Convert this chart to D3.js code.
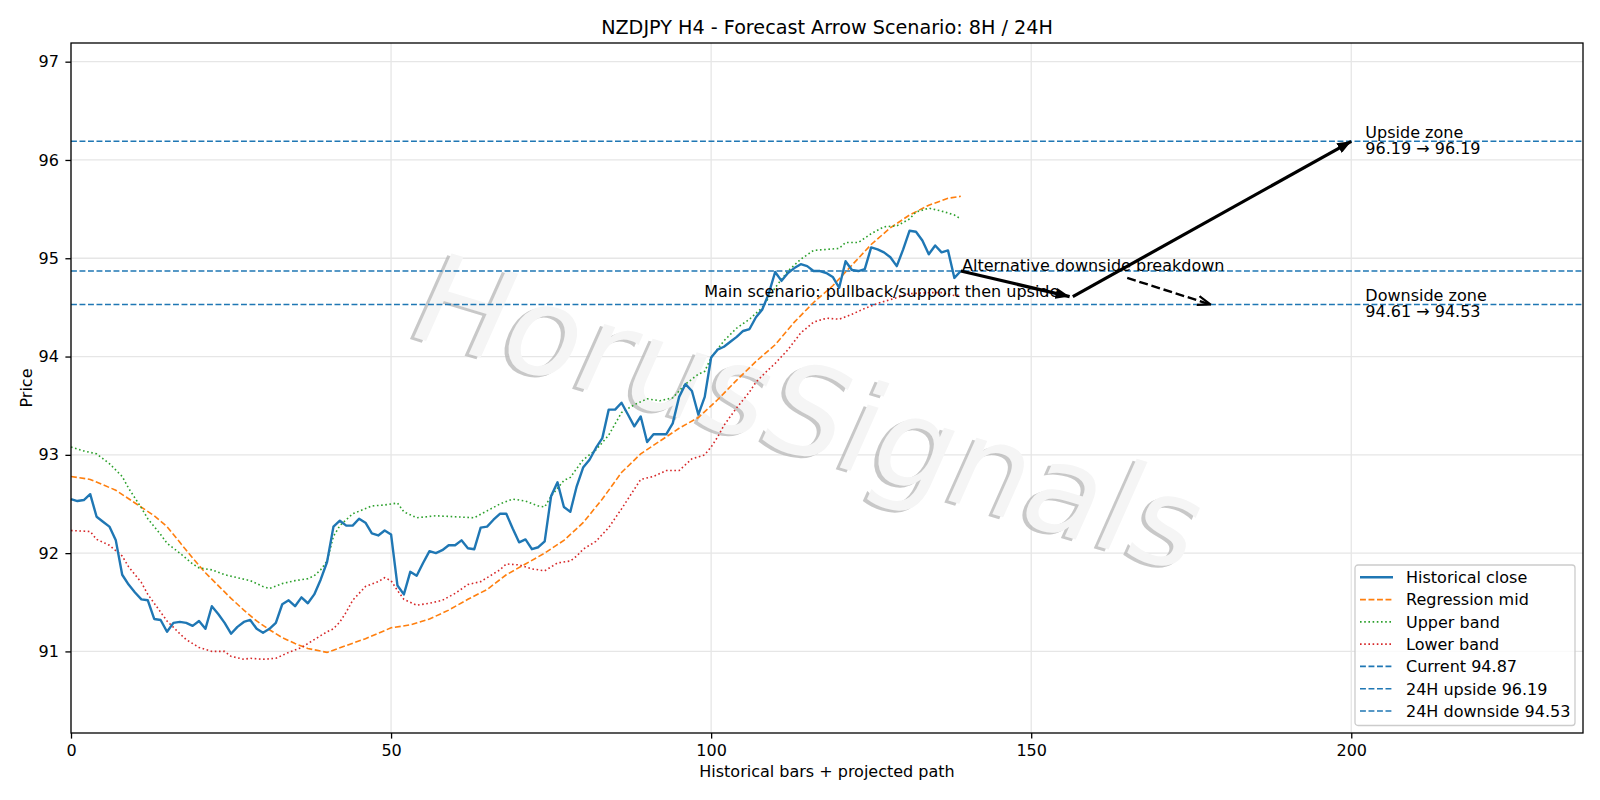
<!DOCTYPE html>
<html>
<head>
<meta charset="utf-8">
<script src="https://cdn.jsdelivr.net/npm/d3@7/dist/d3.min.js"></script>
<style>
  body { margin: 0; background: #fff; }
  svg { font-family: "DejaVu Sans", sans-serif; }
</style>
</head>
<body>
<svg id="chart"></svg>
<script>
// historical H4 closes, bar 0..139
const closeValues = [
  92.55, 92.53, 92.54, 92.60, 92.37, 92.32, 92.27, 92.13, 91.78, 91.68,
  91.60, 91.53, 91.52, 91.33, 91.32, 91.20, 91.29, 91.30, 91.29, 91.26,
  91.31, 91.23, 91.46, 91.38, 91.29, 91.18, 91.25, 91.30, 91.32, 91.23,
  91.19, 91.23, 91.29, 91.48, 91.52, 91.46, 91.55, 91.49, 91.58, 91.73,
  91.91, 92.27, 92.33, 92.28, 92.28, 92.35, 92.31, 92.20, 92.18, 92.23,
  92.19, 91.67, 91.58, 91.81, 91.77, 91.90, 92.02, 92.00, 92.03, 92.08,
  92.08, 92.13, 92.05, 92.04, 92.26, 92.27, 92.34, 92.40, 92.40, 92.25,
  92.11, 92.14, 92.04, 92.06, 92.12, 92.58, 92.72, 92.47, 92.42, 92.68,
  92.87, 92.95, 93.07, 93.17, 93.46, 93.46, 93.53, 93.41, 93.29, 93.39,
  93.13, 93.21, 93.21, 93.21, 93.32, 93.59, 93.72, 93.65, 93.41, 93.59,
  93.99, 94.07, 94.10, 94.15, 94.20, 94.26, 94.28, 94.40, 94.48, 94.64,
  94.86, 94.77, 94.85, 94.90, 94.94, 94.92, 94.87, 94.87, 94.85, 94.81,
  94.70, 94.97, 94.88, 94.87, 94.89, 95.11, 95.09, 95.06, 95.01, 94.92,
  95.09, 95.28, 95.27, 95.18, 95.04, 95.13, 95.06, 95.08, 94.80, 94.87
];

// regression mid (read at these bars)
const midBars = [0, 3, 7, 10, 13, 15, 17, 19, 21, 23, 25, 27, 29, 31, 33, 35, 37, 40,
  43, 46, 50, 53, 56, 59, 62, 65, 68, 71, 74, 77, 80, 83, 86, 89, 92, 95, 98,
  101, 104, 107, 110, 113, 116, 119, 122, 125, 128, 131, 134, 137, 139];
const midValues = [92.78, 92.75, 92.64, 92.51, 92.38, 92.27, 92.11, 91.95, 91.80, 91.67,
  91.54, 91.42, 91.31, 91.22, 91.14, 91.08, 91.03, 90.99,
  91.06, 91.13, 91.24, 91.27, 91.33, 91.42, 91.53, 91.63, 91.78, 91.89, 92.00, 92.13,
  92.31, 92.55, 92.82, 93.01, 93.14, 93.27, 93.38,
  93.56, 93.76, 93.95, 94.12, 94.35, 94.55, 94.72, 94.93, 95.14, 95.31, 95.44, 95.54, 95.61, 95.63];

const upperBars = [0, 2, 4, 6, 8, 9, 11, 12, 14, 15, 17, 19, 20, 22, 24, 26, 28, 30, 31, 33,
  35, 37, 38, 39, 40, 41, 42, 44, 47, 49, 51, 52, 54, 57, 60, 63, 65, 67, 69, 71, 73, 74,
  75, 77, 78, 80, 82, 84, 86, 88, 90, 92, 94, 96, 98, 99, 100, 102, 104, 106, 108, 110,
  112, 114, 116, 118, 120, 121, 123, 125, 127, 129, 131, 132, 134, 136, 138, 139];
const upperValues = [93.08, 93.04, 93.01, 92.91, 92.78, 92.66, 92.46, 92.35, 92.19, 92.10,
  92.00, 91.89, 91.85, 91.83, 91.78, 91.75, 91.72, 91.66, 91.64, 91.69,
  91.72, 91.74, 91.77, 91.83, 91.92, 92.17, 92.28, 92.40, 92.48, 92.49, 92.51, 92.42,
  92.36, 92.38, 92.37, 92.36, 92.43, 92.50, 92.55, 92.53, 92.48, 92.47,
  92.58, 92.74, 92.77, 92.95, 93.05, 93.20, 93.43, 93.51, 93.57, 93.55, 93.58, 93.72,
  93.82, 93.85, 93.99, 94.16, 94.29, 94.38, 94.50, 94.70,
  94.87, 94.99, 95.08, 95.09, 95.10, 95.16, 95.16, 95.25, 95.32, 95.33, 95.40, 95.47,
  95.51, 95.48, 95.44, 95.40];

const lowerBars = [0, 3, 4, 6, 8, 9, 11, 12, 14, 15, 17, 18, 20, 22, 24, 25, 27, 28, 30, 32,
  34, 36, 37, 39, 40, 41, 42, 43, 44, 46, 48, 49, 50, 51, 52, 54, 56, 58, 60, 62, 64, 65,
  67, 68, 70, 72, 74, 76, 78, 79, 80, 82, 84, 86, 88, 89, 91, 93, 95, 97, 99, 100, 101,
  102, 104, 106, 107, 109, 110, 112, 114, 116, 118, 120, 122, 124, 126, 128, 131, 134,
  136, 138, 139];
const lowerValues = [92.23, 92.22, 92.14, 92.08, 91.97, 91.86, 91.70, 91.58, 91.40, 91.31,
  91.18, 91.12, 91.04, 91.00, 91.00, 90.95, 90.92, 90.93, 90.92, 90.93,
  90.99, 91.04, 91.08, 91.16, 91.20, 91.23, 91.30, 91.40, 91.52, 91.66, 91.71, 91.75,
  91.72, 91.62, 91.53, 91.47, 91.49, 91.52, 91.59, 91.68, 91.71, 91.75,
  91.83, 91.89, 91.88, 91.84, 91.82, 91.90, 91.92, 91.97, 92.04, 92.12, 92.26, 92.45,
  92.65, 92.75, 92.78, 92.84, 92.84, 92.96, 93.00, 93.08, 93.18,
  93.30, 93.48, 93.64, 93.74, 93.87, 93.93, 94.07, 94.24, 94.35, 94.39, 94.38, 94.43,
  94.49, 94.54, 94.58, 94.64, 94.65, 94.65, 94.62, 94.63];

// current / 24H upside / 24H downside
const levelValues = [94.87, 96.19, 94.53];

// projected path arrows [bar, price]
const arrowStarts = [[139, 94.87], [156.5, 94.61], [165, 94.80]];
const arrowEnds = [[156, 94.61], [200, 96.19], [178, 94.53]];
const arrowDashed = [false, false, true];

const zoneLevels = [96.19, 94.53];
const zoneLabels = [['Upside zone', '96.19 \u2192 96.19'], ['Downside zone', '94.61 \u2192 94.53']];
const zoneBar = 202.2;

const legendLabels = ['Historical close', 'Regression mid', 'Upper band', 'Lower band',
  'Current 94.87', '24H upside 96.19', '24H downside 94.53'];

const xTicks = [0, 50, 100, 150, 200];
const yTicks = [91, 92, 93, 94, 95, 96, 97];

class ForecastChart {

    constructor(_config) {
        this.config = {
            parentElement: _config.parentElement,
            containerWidth: _config.containerWidth || 1600,
            containerHeight: _config.containerHeight || 800,
            margin: { top: 43, bottom: 67, right: 17, left: 71 }
        }
        this.initVis();
    }

    initVis() {
        let vis = this;

        vis.width = vis.config.containerWidth - vis.config.margin.left - vis.config.margin.right;
        vis.height = vis.config.containerHeight - vis.config.margin.top - vis.config.margin.bottom;

        vis.svg = d3.select(vis.config.parentElement)
            .attr('width', vis.config.containerWidth)
            .attr('height', vis.config.containerHeight);

        vis.chart = vis.svg.append('g')
            .attr('transform', `translate(${vis.config.margin.left},${vis.config.margin.top})`);

        vis.xScale = d3.scaleLinear().domain([0, 236.2]).range([0, vis.width]);
        vis.yScale = d3.scaleLinear().domain([90.17, 97.19]).range([vis.height, 0]);

        // grid
        vis.chart.append('g').selectAll('line')
            .data(yTicks)
            .join('line')
              .attr('x1', 0).attr('x2', vis.width)
              .attr('y1', d => vis.yScale(d)).attr('y2', d => vis.yScale(d))
              .attr('stroke', '#e6e6e6').attr('stroke-width', 1.3);
        vis.chart.append('g').selectAll('line')
            .data(xTicks)
            .join('line')
              .attr('y1', 0).attr('y2', vis.height)
              .attr('x1', d => vis.xScale(d)).attr('x2', d => vis.xScale(d))
              .attr('stroke', '#e6e6e6').attr('stroke-width', 1.3);

        // watermark
        const wm = vis.chart.append('g')
            .attr('transform', `translate(${vis.width * 0.477},${vis.height * 0.594}) rotate(17) skewX(-7)`)
            .style('font-size', '125px');
        wm.append('text')
            .attr('x', -3).attr('y', 3)
            .attr('text-anchor', 'middle')
            .attr('fill', '#b5b5b5')
            .attr('fill-opacity', 0.75)
            .text('HorusSignals');
        wm.append('text')
            .attr('text-anchor', 'middle')
            .attr('fill', '#f5f5f5')
            .text('HorusSignals');

        let line = d3.line()
            .x(d => vis.xScale(d[0]))
            .y(d => vis.yScale(d[1]));

        // horizontal levels
        vis.chart.append('g').selectAll('line')
            .data(levelValues)
            .join('line')
              .attr('x1', 0).attr('x2', vis.width)
              .attr('y1', d => vis.yScale(d)).attr('y2', d => vis.yScale(d))
              .attr('stroke', '#1f77b4').attr('stroke-width', 1.6)
              .attr('stroke-dasharray', '5.9,2.6');

        vis.chart.append('path')
            .datum(midBars.map((b, i) => [b, midValues[i]]))
            .attr('d', line)
            .attr('fill', 'none').attr('stroke', '#ff7f0e')
            .attr('stroke-width', 1.6).attr('stroke-dasharray', '5.9,2.6');
        vis.chart.append('path')
            .datum(upperBars.map((b, i) => [b, upperValues[i]]))
            .attr('d', line)
            .attr('fill', 'none').attr('stroke', '#2ca02c')
            .attr('stroke-width', 1.6).attr('stroke-dasharray', '1.6,2.6');
        vis.chart.append('path')
            .datum(lowerBars.map((b, i) => [b, lowerValues[i]]))
            .attr('d', line)
            .attr('fill', 'none').attr('stroke', '#d62728')
            .attr('stroke-width', 1.6).attr('stroke-dasharray', '1.6,2.6');
        vis.chart.append('path')
            .datum(closeValues.map((v, i) => [i, v]))
            .attr('d', line)
            .attr('fill', 'none').attr('stroke', '#1f77b4')
            .attr('stroke-width', 2.4).attr('stroke-linejoin', 'round');

        // arrow heads
        const defs = vis.svg.append('defs');
        defs.append('marker')
            .attr('id', 'head-solid')
            .attr('viewBox', '0 0 14 11')
            .attr('refX', 14).attr('refY', 5.5)
            .attr('markerWidth', 14).attr('markerHeight', 11)
            .attr('markerUnits', 'userSpaceOnUse')
            .attr('orient', 'auto')
          .append('path')
            .attr('d', 'M0,0L14,5.5L0,11z')
            .attr('fill', '#000');
        defs.append('marker')
            .attr('id', 'head-open')
            .attr('viewBox', '0 0 14 11')
            .attr('refX', 13).attr('refY', 5.5)
            .attr('markerWidth', 14).attr('markerHeight', 11)
            .attr('markerUnits', 'userSpaceOnUse')
            .attr('orient', 'auto')
          .append('path')
            .attr('d', 'M0,1L13,5.5L0,10')
            .attr('fill', 'none').attr('stroke', '#000').attr('stroke-width', 2.2);

        vis.chart.append('g').selectAll('line')
            .data(arrowStarts)
            .join('line')
              .attr('x1', d => vis.xScale(d[0])).attr('y1', d => vis.yScale(d[1]))
              .attr('x2', (d, i) => vis.xScale(arrowEnds[i][0]))
              .attr('y2', (d, i) => vis.yScale(arrowEnds[i][1]))
              .attr('stroke', '#000')
              .attr('stroke-width', (d, i) => arrowDashed[i] ? 2.4 : 3.2)
              .attr('stroke-dasharray', (d, i) => arrowDashed[i] ? '8.9,3.8' : null)
              .attr('marker-end', (d, i) => arrowDashed[i] ? 'url(#head-open)' : 'url(#head-solid)');

        // annotations
        vis.chart.append('text')
            .attr('x', vis.xScale(154.4)).attr('y', vis.yScale(94.61))
            .attr('text-anchor', 'end')
            .style('font-size', '16px')
            .text('Main scenario: pullback/support then upside');
        vis.chart.append('text')
            .attr('x', vis.xScale(139.2)).attr('y', vis.yScale(94.87))
            .style('font-size', '16px')
            .text('Alternative downside breakdown');

        vis.chart.append('g').selectAll('text')
            .data(zoneLevels)
            .join('text')
              .attr('x', vis.xScale(zoneBar))
              .attr('y', d => vis.yScale(d))
              .style('font-size', '16px')
              .each(function(d, i) {
                  d3.select(this).append('tspan')
                    .attr('x', vis.xScale(zoneBar)).attr('dy', -3.5)
                    .text(zoneLabels[i][0]);
                  d3.select(this).append('tspan')
                    .attr('x', vis.xScale(zoneBar)).attr('dy', 16.3)
                    .text(zoneLabels[i][1]);
              });

        // axes
        vis.xAxisG = vis.chart.append('g')
            .attr('transform', `translate(0,${vis.height})`)
            .call(d3.axisBottom(vis.xScale).tickValues(xTicks).tickFormat(d3.format('d'))
                .tickSize(5.6).tickPadding(5.6));
        vis.yAxisG = vis.chart.append('g')
            .call(d3.axisLeft(vis.yScale).tickValues(yTicks).tickFormat(d3.format('d'))
                .tickSize(5.6).tickPadding(6.5));
        [vis.xAxisG, vis.yAxisG].forEach(g => {
            g.select('.domain').remove();
            g.selectAll('text').style('font-size', '16px').attr('fill', '#000')
                .style('font-family', '"DejaVu Sans", sans-serif');
            g.selectAll('line').attr('stroke', '#000').attr('stroke-width', 1.3);
        });

        vis.chart.append('rect')
            .attr('width', vis.width).attr('height', vis.height)
            .attr('fill', 'none').attr('stroke', '#000').attr('stroke-width', 1.3);

        // legend
        const legend = vis.chart.append('g')
            .attr('transform', `translate(${vis.width - 228},${vis.height - 168})`);
        legend.append('rect')
            .attr('width', 220).attr('height', 160.5)
            .attr('rx', 3)
            .attr('fill', '#fff').attr('fill-opacity', 0.8)
            .attr('stroke', '#cccccc').attr('stroke-width', 1.3);
        const handleStyles = [
            { color: '#1f77b4', dash: null, w: 2.4 },
            { color: '#ff7f0e', dash: '5.9,2.6', w: 1.6 },
            { color: '#2ca02c', dash: '1.6,2.6', w: 1.6 },
            { color: '#d62728', dash: '1.6,2.6', w: 1.6 },
            { color: '#1f77b4', dash: '5.9,2.6', w: 1.6 },
            { color: '#1f77b4', dash: '5.9,2.6', w: 1.6 },
            { color: '#1f77b4', dash: '5.9,2.6', w: 1.6 }
        ];
        const rows = legend.selectAll('g.row')
            .data(legendLabels)
            .join('g')
              .attr('class', 'row')
              .attr('transform', (d, i) => `translate(0,${12.3 + i * 22.28})`);
        rows.append('line')
            .attr('x1', 5).attr('x2', 38)
            .attr('stroke', (d, i) => handleStyles[i].color)
            .attr('stroke-width', (d, i) => handleStyles[i].w)
            .attr('stroke-dasharray', (d, i) => handleStyles[i].dash);
        rows.append('text')
            .attr('x', 51).attr('y', 5.8)
            .style('font-size', '16px')
            .text(d => d);

        // titles
        vis.svg.append('text')
            .attr('x', vis.config.margin.left + vis.width / 2).attr('y', 33.5)
            .attr('text-anchor', 'middle')
            .style('font-size', '19.2px')
            .text('NZDJPY H4 - Forecast Arrow Scenario: 8H / 24H');
        vis.svg.append('text')
            .attr('x', vis.config.margin.left + vis.width / 2).attr('y', 777)
            .attr('text-anchor', 'middle')
            .style('font-size', '16px')
            .text('Historical bars + projected path');
        vis.svg.append('text')
            .attr('transform', `translate(32,${vis.config.margin.top + vis.height / 2}) rotate(-90)`)
            .attr('text-anchor', 'middle')
            .style('font-size', '16px')
            .text('Price');
    }
}

let chart = new ForecastChart({ parentElement: '#chart' });
</script>
</body>
</html>
